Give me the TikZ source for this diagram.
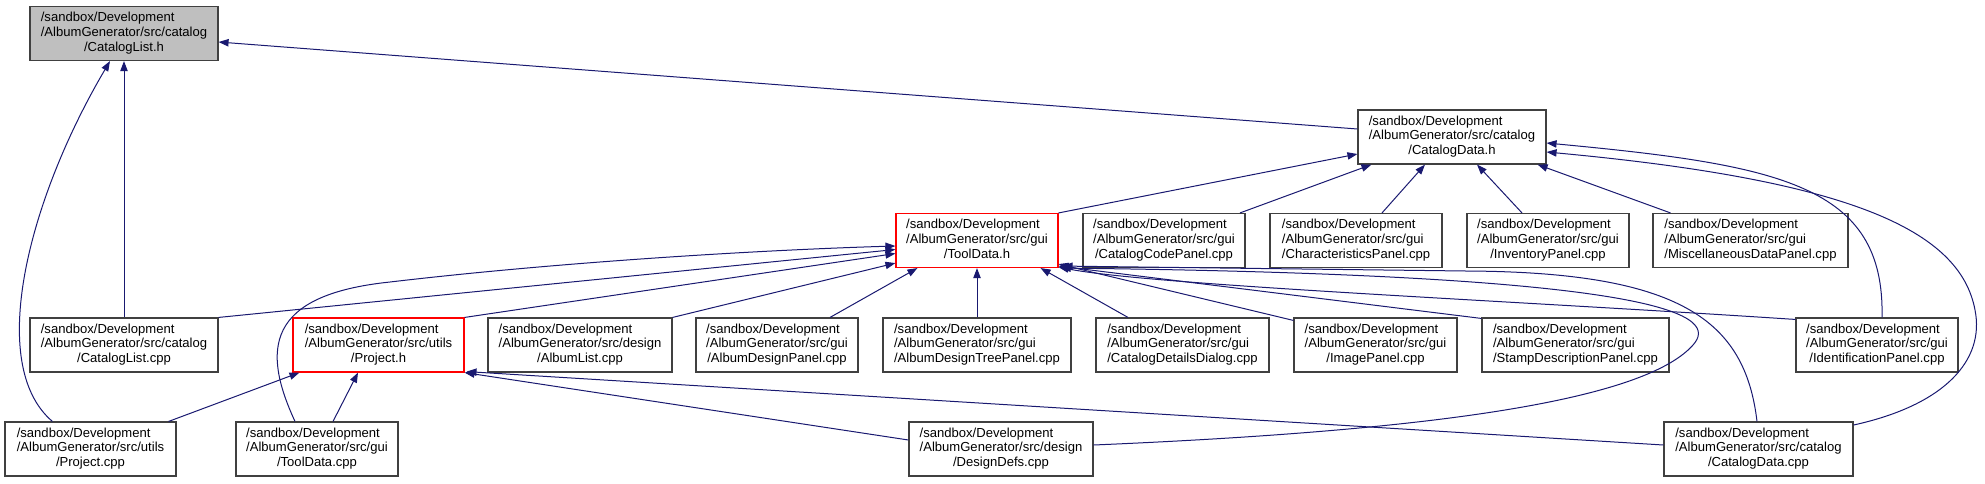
\documentclass[tikz,border=0pt]{standalone}
\usepackage{fontspec}
\setmainfont{Liberation Sans}
\usepackage{xcolor}
\usepackage{tikz}
\usetikzlibrary{arrows.meta,calc}

\definecolor{edgeblue}{HTML}{191970}
\definecolor{grey25}{HTML}{404040}
\definecolor{grey75}{HTML}{BFBFBF}

\newcommand{\docfont}{\fontsize{9.8}{11}\selectfont}
\newcommand{\fpath}[2]{\begin{tabular}{@{}l@{}}/sandbox/Development\\/#1\\\multicolumn{1}{@{}c@{}}{/#2}\end{tabular}}

\begin{document}
\begin{tikzpicture}[
    x=0.75pt, y=-0.75pt,
    box/.style={rectangle, draw=grey25, line width=0.85pt, fill=white, inner sep=0pt, minimum height=40.5pt, minimum width=#1*0.75pt, font=\docfont},
    rbox/.style={box=#1, draw=red},
    gbox/.style={box=#1, fill=grey75},
    arrow/.style={-{Triangle[length=7.5pt,width=5.5pt]}, line width=0.75pt, draw=edgeblue}
]
\useasboundingbox (0,0) rectangle (1985,483);

% headers
\node[gbox=188] (clh) at (124,33.5) {\fpath{AlbumGenerator/src/catalog}{CatalogList.h}};
\node[box=188] (cdh) at (1452,137) {\fpath{AlbumGenerator/src/catalog}{CatalogData.h}};

% second row
\node[rbox=162] (tdh) at (977,240.5) {\fpath{AlbumGenerator/src/gui}{ToolData.h}};
\node[box=162] (ccp) at (1164,240.5) {\fpath{AlbumGenerator/src/gui}{CatalogCodePanel.cpp}};
\node[box=172] (chp) at (1356,240.5) {\fpath{AlbumGenerator/src/gui}{CharacteristicsPanel.cpp}};
\node[box=162] (inp) at (1548,240.5) {\fpath{AlbumGenerator/src/gui}{InventoryPanel.cpp}};
\node[box=195] (mdp) at (1750.5,240.5) {\fpath{AlbumGenerator/src/gui}{MiscellaneousDataPanel.cpp}};

% third row
\node[box=188] (clcpp) at (124,345) {\fpath{AlbumGenerator/src/catalog}{CatalogList.cpp}};
\node[rbox=171] (prh) at (378.5,345) {\fpath{AlbumGenerator/src/utils}{Project.h}};
\node[box=184] (alc) at (580,345) {\fpath{AlbumGenerator/src/design}{AlbumList.cpp}};
\node[box=162] (adp) at (777,345) {\fpath{AlbumGenerator/src/gui}{AlbumDesignPanel.cpp}};
\node[box=188] (adtp) at (977,345) {\fpath{AlbumGenerator/src/gui}{AlbumDesignTreePanel.cpp}};
\node[box=173] (cdd) at (1182.5,345) {\fpath{AlbumGenerator/src/gui}{CatalogDetailsDialog.cpp}};
\node[box=163] (imp) at (1375.5,345) {\fpath{AlbumGenerator/src/gui}{ImagePanel.cpp}};
\node[box=187] (sdp) at (1575.5,345) {\fpath{AlbumGenerator/src/gui}{StampDescriptionPanel.cpp}};
\node[box=162] (idp) at (1877,345) {\fpath{AlbumGenerator/src/gui}{IdentificationPanel.cpp}};

% bottom row
\node[box=171] (prcpp) at (90.5,449) {\fpath{AlbumGenerator/src/utils}{Project.cpp}};
\node[box=162] (tdcpp) at (317,449) {\fpath{AlbumGenerator/src/gui}{ToolData.cpp}};
\node[box=184] (ddc) at (1001,449) {\fpath{AlbumGenerator/src/design}{DesignDefs.cpp}};
\node[box=189] (cdcpp) at (1758.5,449) {\fpath{AlbumGenerator/src/catalog}{CatalogData.cpp}};

% into CatalogList.h
\draw[arrow] ($(cdh.west)+(0,-8)$) -- ($(clh.east)+(0,8.5)$);
\draw[arrow] (clcpp.north) -- (clh.south);
\draw[arrow] ($(prcpp.north west)+(48,0)$) .. controls (-14,365) and (28,200) .. ($(clh.south)+(-14,0)$);

% into CatalogData.h
\draw[arrow] (tdh.north east) -- ($(cdh.west)+(0,17)$);
\draw[arrow] ($(ccp.north)+(76,0)$) -- ($(cdh.south west)+(14,0)$);
\draw[arrow] ($(chp.north)+(26,0)$) -- ($(cdh.south)+(-27,0)$);
\draw[arrow] ($(inp.north)+(-26,0)$) -- ($(cdh.south)+(25,0)$);
\draw[arrow] ($(mdp.north)+(-80,0)$) -- ($(cdh.south east)+(-9,0)$);
\draw[arrow] ($(idp.north)+(5,0)$) .. controls (1885,185) and (1780,165) .. ($(cdh.east)+(0,6)$);
\draw[arrow] ($(cdcpp.east)+(0,-24)$) .. controls (1945,405) and (1985,360) .. (1975,310)
    .. controls (1960,230) and (1850,180) .. ($(cdh.east)+(0,15)$);

% into ToolData.h
\draw[arrow] ($(tdcpp.north)+(-22,0)$) .. controls (262,350) and (265,295) .. (390,282)
    .. controls (560,262) and (760,250) .. ($(tdh.west)+(0,5.5)$);
\draw[arrow] (clcpp.north east) -- ($(tdh.west)+(0,9)$);
\draw[arrow] (prh.north east) -- ($(tdh.west)+(0,13)$);
\draw[arrow] (alc.north east) -- ($(tdh.south west)+(0,-5)$);
\draw[arrow] ($(adp.north)+(53,0)$) -- ($(tdh.south west)+(22,0)$);
\draw[arrow] (adtp.north) -- (tdh.south);
\draw[arrow] ($(cdd.north)+(-54.5,0)$) -- ($(tdh.south east)+(-18,0)$);
\draw[arrow] ($(imp.north west)+(0,3)$) -- ($(tdh.south east)+(0,-4)$);
\draw[arrow] ($(sdp.north west)+(0,1)$) -- ($(tdh.south east)+(0,-2)$);
\draw[arrow] ($(idp.north west)+(0,2)$) .. controls (1500,300) and (1150,285) .. ($(tdh.south east)+(0,-1)$);
\draw[arrow] ($(ddc.east)+(0,-4)$) .. controls (1400,432) and (1640,405) .. (1693,345)
    .. controls (1718,317) and (1680,275) .. ($(tdh.south east)+(2,0)$);
\draw[arrow] ($(cdcpp.north)+(-1.5,0)$) .. controls (1745,320) and (1680,272) .. (1466,271)
    -- ($(tdh.south east)+(4,-2)$);

% into Project.h
\draw[arrow] ($(prcpp.north east)+(-8,0)$) -- ($(prh.south west)+(7,0)$);
\draw[arrow] ($(tdcpp.north)+(16,0)$) -- ($(prh.south)+(-20.5,0)$);
\draw[arrow] ($(ddc.west)+(0,-9)$) -- (prh.south east);
\draw[arrow] ($(cdcpp.west)+(0,-4)$) -- ($(prh.south east)+(2,-1)$);

\end{tikzpicture}
\end{document}
